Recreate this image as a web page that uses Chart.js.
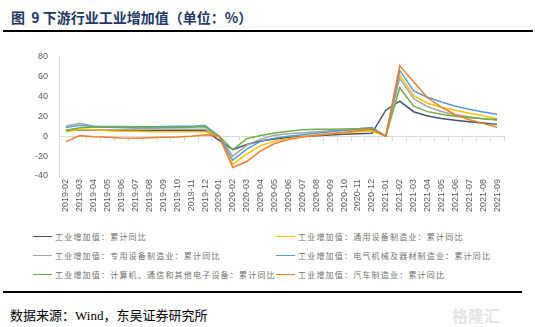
<!DOCTYPE html>
<html>
<head>
<meta charset="utf-8">
<script src="https://cdn.jsdelivr.net/npm/chart.js@4/dist/chart.umd.min.js"></script>
<style>
  body { margin: 0; background: #fff; width: 535px; height: 327px; position: relative; overflow: hidden;
         font-family: 'Noto Sans CJK SC', sans-serif; }
  #title { position: absolute; left: 11px; top: 7px; font-size: 14px; font-weight: bold; color: #1F3864; white-space: nowrap; }
  .rule { position: absolute; background: #000; }
  #chartBox { position: absolute; left: 0; top: 40px; width: 535px; height: 190px; }
  .lg { position: absolute; height: 12px; font-size: 8px; letter-spacing: 1.2px; color: #707070; white-space: nowrap; line-height: 12px; }
  .lg i { display: inline-block; width: 19px; height: 0; border-top: 1.5px solid; vertical-align: middle; margin-right: 3px; position: relative; top: -1px; }
  #source { position: absolute; left: 10px; top: 305px; font-size: 13px; color: #000; white-space: nowrap; }
  #wm { position: absolute; left: 452px; top: 303px; font-size: 16px; font-weight: bold; color: #e4e4e4; white-space: nowrap; }
</style>
</head>
<body>
<div id="title">图&nbsp;&nbsp;9 下游行业工业增加值（单位：%）</div>
<div class="rule" style="left:3px; top:30px; width:530px; height:2px;"></div>
<div id="chartBox"><canvas id="chart" width="535" height="190"></canvas></div>
<div id="legend"></div>
<div class="rule" style="left:3px; top:291px; width:519px; height:2px;"></div>
<div id="source">数据来源：<span style="font-family:'Liberation Serif'">Wind</span>，东吴证券研究所</div>
<div id="wm">格隆汇</div>
<script>
// categories
const months = [
  '2019-02','2019-03','2019-04','2019-05','2019-06','2019-07','2019-08','2019-09','2019-10','2019-11','2019-12',
  '2020-01','2020-02','2020-03','2020-04','2020-05','2020-06','2020-07','2020-08','2020-09','2020-10','2020-11','2020-12',
  '2021-01','2021-02','2021-03','2021-04','2021-05','2021-06','2021-07','2021-08','2021-09'
];

// series values (%)
const total = [5.3, 6.5, 6.2, 6.0, 6.0, 5.8, 5.6, 5.6, 5.6, 5.6, 5.7,
  -4.0, -13.5, -8.4, -4.9, -2.8, -1.3, -0.4, 0.4, 1.2, 1.8, 2.3, 2.8,
  26.0, 35.1, 24.5, 20.3, 17.8, 15.9, 14.4, 13.1, 11.8];
const generalEquip = [4.5, 7.0, 6.5, 5.5, 5.0, 4.8, 4.5, 4.5, 4.5, 4.4, 4.3,
  0, -28.0, -18.0, -9.5, -5.0, -2.5, -0.5, 1.0, 2.5, 3.5, 4.5, 5.1,
  0, 61.5, 40.5, 33.0, 29.0, 26.0, 23.0, 20.5, 17.5];
const specialEquip = [10.2, 13.0, 10.0, 8.8, 8.5, 8.0, 7.5, 7.2, 7.0, 7.0, 6.9,
  0, -20.0, -9.0, -3.0, 1.0, 2.5, 3.5, 4.5, 5.5, 6.0, 6.5, 7.0,
  0, 58.0, 37.5, 29.5, 24.8, 21.5, 19.5, 17.5, 16.0];
const electrical = [8.6, 11.0, 9.6, 9.6, 9.6, 9.5, 9.5, 9.6, 9.8, 10.0, 10.7,
  0, -24.0, -13.0, -5.0, -2.0, 0.0, 1.5, 3.0, 4.5, 6.0, 7.5, 8.6,
  0, 66.0, 45.4, 39.0, 34.2, 30.0, 26.9, 24.3, 22.0];
const electronics = [6.0, 8.3, 8.8, 8.8, 9.0, 8.9, 8.6, 8.6, 8.7, 8.8, 9.3,
  0, -13.7, -2.6, 0.6, 3.2, 5.0, 6.5, 6.8, 7.0, 7.2, 7.5, 8.0,
  0, 48.6, 30.0, 24.6, 22.0, 20.0, 18.5, 17.5, 16.6];
const autos = [-5.5, 0.5, -0.5, -1.0, -1.8, -2.0, -1.5, -1.0, -0.8, 0.0, 1.5,
  0, -31.5, -25.5, -14.7, -7.4, -3.5, -1.0, 1.0, 2.5, 4.0, 5.5, 6.6,
  0, 70.5, 54.5, 38.5, 29.0, 21.5, 16.5, 12.8, 9.0];

const seriesNames = [
  '工业增加值：累计同比',
  '工业增加值：通用设备制造业：累计同比',
  '工业增加值：专用设备制造业：累计同比',
  '工业增加值：电气机械及器材制造业：累计同比',
  '工业增加值：计算机、通信和其他电子设备：累计同比',
  '工业增加值：汽车制造业：累计同比'
];
const seriesData = [total, generalEquip, specialEquip, electrical, electronics, autos];
const colors = ['#44546A', '#FFC000', '#A5A5A5', '#5B9BD5', '#70AD47', '#ED7D31'];

const tickFont = { family: "'Liberation Sans', sans-serif", size: 9 };

const config = {
  type: 'line',
  data: {
    labels: months,
    datasets: seriesNames.map((name, i) => ({
      label: name,
      data: seriesData[i],
      borderColor: colors[i],
      backgroundColor: colors[i],
      borderWidth: 1.5,
      pointRadius: 0,
      tension: 0,
      order: seriesNames.length - i
    }))
  },
  options: {
    responsive: false,
    animation: false,
    layout: { padding: { left: 0, right: 31, top: 11, bottom: 4 } },
    plugins: { legend: { display: false }, tooltip: { enabled: false } },
    scales: {
      x: {
        offset: true,
        grid: { display: false, drawTicks: false },
        border: { display: false },
        ticks: { autoSkip: false, minRotation: 90, maxRotation: 90, padding: 3, color: '#595959', font: tickFont },
        afterFit: s => { s.height = 50; }
      },
      // zero line with small tick marks between categories
      x0: {
        axis: 'x',
        type: 'category',
        position: { y: 0 },
        offset: true,
        ticks: { display: false },
        grid: { offset: true, drawOnChartArea: false, drawTicks: true, tickLength: 4, color: '#D9D9D9' },
        border: { color: '#D9D9D9', width: 1 }
      },
      y: {
        min: -40,
        max: 80,
        grid: { display: false, drawTicks: false },
        border: { color: '#D9D9D9', width: 1 },
        ticks: { stepSize: 20, padding: 11, color: '#595959', font: tickFont },
        afterFit: s => { s.width = 59; }
      }
    }
  }
};

function buildLegend(chart) {
  const box = document.getElementById('legend');
  chart.data.datasets.forEach((ds, i) => {
    const item = document.createElement('div');
    item.className = 'lg';
    item.style.left = (i % 2 === 0 ? 33 : 276) + 'px';
    item.style.top = (231 + Math.floor(i / 2) * 19) + 'px';
    item.innerHTML = '<i style="border-color:' + ds.borderColor + '"></i>' + ds.label;
    box.appendChild(item);
  });
}

const chart = new Chart(document.getElementById('chart').getContext('2d'), config);
buildLegend(chart);
</script>
</body>
</html>
